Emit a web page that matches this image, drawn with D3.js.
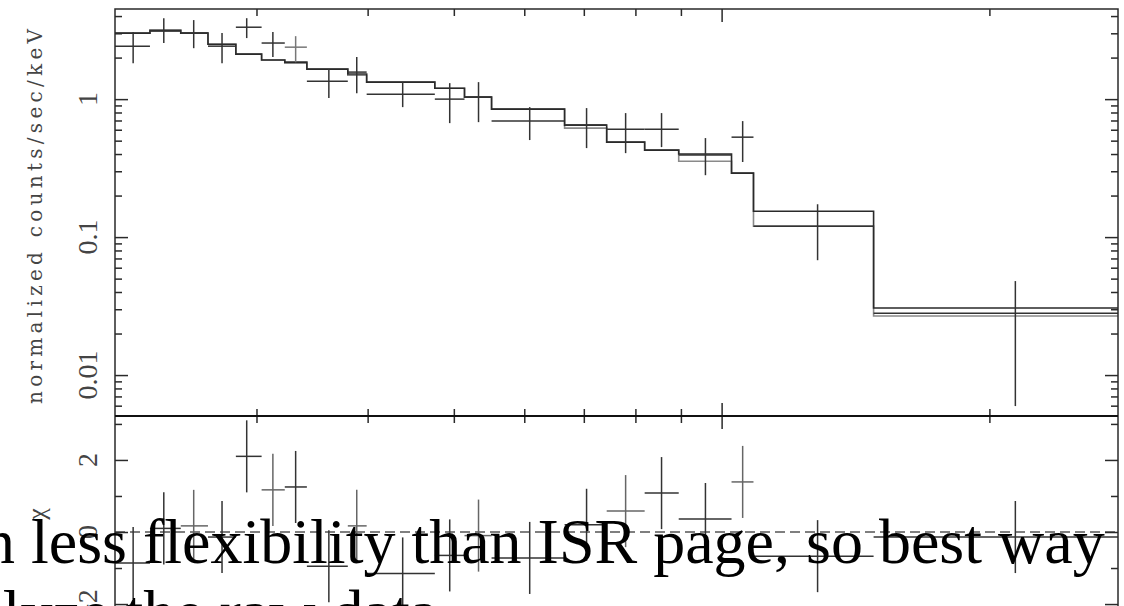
<!DOCTYPE html>
<html>
<head>
<meta charset="utf-8">
<script src="https://cdnjs.cloudflare.com/ajax/libs/d3/7.8.5/d3.min.js"></script>
<style>
  body { margin: 0; background: #fff; }
  svg { display: block; }
</style>
</head>
<body>
<div id="chart"></div>
<script>

	// spectrum bins (keV)
	var binLo  = [0.200, 0.2277, 0.2466, 0.2646, 0.2844, 0.304, 0.3228, 0.3418, 0.380, 0.399, 0.476, 0.514, 0.5513, 0.666, 0.7427, 0.8194, 0.8949, 1.026, 1.086, 1.482];
	var binHi  = [0.2277, 0.2466, 0.2646, 0.2844, 0.304, 0.3228, 0.3418, 0.380, 0.399, 0.476, 0.514, 0.5513, 0.666, 0.7427, 0.8194, 0.8949, 1.026, 1.086, 1.482, 3.0];
	var energy = [0.218, 0.236, 0.255, 0.2744, 0.2925, 0.313, 0.332, 0.3618, 0.3889, 0.438, 0.4947, 0.533, 0.6085, 0.705, 0.780, 0.856, 0.959, 1.056, 1.282, 2.139];

	// normalized counts/sec/keV with error range
	var rate   = [2.42, 3.11, 3.01, 2.42, 3.32, 2.55, 2.38, 1.35, 1.57, 1.087, 1.0, 1.034, 0.693, 0.648, 0.606, 0.606, 0.393, 0.530, 0.120, 0.0281];
	var rateLo = [1.82, 2.55, 2.34, 1.82, 2.77, 2.02, 1.85, 1.017, 1.105, 0.875, 0.670, 0.681, 0.505, 0.4416, 0.406, 0.449, 0.281, 0.35, 0.068, 0.00596];
	var rateHi = [3.06, 3.86, 3.74, 3.01, 3.86, 3.06, 2.86, 1.65, 2.02, 1.328, 1.306, 1.328, 0.875, 0.861, 0.792, 0.792, 0.522, 0.693, 0.173, 0.048];

	// folded models (two step curves)
	var modelA = [3.01, 3.16, 3.01, 2.50, 2.12, 1.92, 1.855, 1.65, 1.52, 1.328, 1.20, 1.034, 0.846, 0.648, 0.488, 0.427, 0.400, 0.291, 0.154, 0.0306];
	var modelB = [3.01, 3.16, 3.01, 2.50, 2.12, 1.92, 1.825, 1.65, 1.49, 1.328, 1.20, 1.034, 0.846, 0.616, 0.488, 0.427, 0.355, 0.291, 0.120, 0.0268];

	// residuals (chi)
	var chi    = [-0.86, 0.10, 0.17, -0.14, 2.10, 1.17, 1.25, -0.95, 0.17, -1.15, -0.65, -0.10, -0.72, 0.20, 0.58, 1.08, 0.36, 1.39, -0.67, -0.14];
	var chiErr = [1, 1, 1, 1, 1, 1, 1, 1, 1, 1, 1, 1, 1, 1, 1, 1, 1, 1, 1, 1];

	// ticks
	var rateTicks  = [0.01, 0.1, 1],
		rateLabels = ["0.01", "0.1", "1"],
		rateMinor  = [0.006, 0.007, 0.008, 0.009, 0.02, 0.03, 0.04, 0.05, 0.06, 0.07, 0.08, 0.09,
		              0.2, 0.3, 0.4, 0.5, 0.6, 0.7, 0.8, 0.9, 2, 3, 4];
	var chiTicks  = [-2, 0, 2],
		chiLabels = ["\u22122", "0", "2"],
		chiMinor  = [-3, -1, 1, 3];
	var energyTicks = [1],
		energyMinor = [0.3, 0.4, 0.5, 0.6, 0.7, 0.8, 0.9, 2];

	// slide text laid over the figure
	var slideLines = ["n less flexibility than ISR page, so best way", "analyze the raw data"];

	//layout
	var W = 1124, H = 606,
		padL = 115, padR = 1118, padT = 9, split = 416, padB = 648,
		major = 13, minor = 7, ink = "#2a2a2a";

	var svg = d3.select("#chart")
		.append("svg")
			.attr("width", W)
			.attr("height", H);

	//scales
	var x = d3.scaleLog()
		.domain([0.208, 2.79])
		.range([padL, padR]);

	var yRate = d3.scaleLog()
		.domain([0.00505, 4.5])
		.range([split, padT]);

	var yChi = d3.scaleLinear()
		.domain([-3.22, 3.22])
		.range([padB, split]);

	//clip paths for the two panels
	var defs = svg.append("defs");
	defs.append("clipPath").attr("id", "clipTop")
		.append("rect")
		.attr("x", padL).attr("y", padT)
		.attr("width", padR - padL).attr("height", split - padT);
	defs.append("clipPath").attr("id", "clipBot")
		.append("rect")
		.attr("x", padL).attr("y", split)
		.attr("width", padR - padL).attr("height", padB - split);

	var topPanel = svg.append("g").attr("clip-path", "url(#clipTop)");
	var botPanel = svg.append("g").attr("clip-path", "url(#clipBot)");

	//model step lines
	function steps(model) {
		var pts = [];
		model.forEach(function(m, i) {
			pts.push([binLo[i], m]);
			pts.push([binHi[i], m]);
		});
		return pts;
	}

	var stepLine = d3.line()
		.x(function(d) { return x(d[0]); })
		.y(function(d) { return yRate(d[1]); });

	topPanel.append("path")
		.attr("d", stepLine(steps(modelB)))
		.attr("fill", "none")
		.attr("stroke", "#8a8a8a")
		.attr("stroke-width", 1.6);

	topPanel.append("path")
		.attr("d", stepLine(steps(modelA)))
		.attr("fill", "none")
		.attr("stroke", ink)
		.attr("stroke-width", 1.6);

	//data crosses
	var idx = d3.range(energy.length);

	topPanel.selectAll("line.xerr")
		.data(idx)
		.enter()
		.append("line")
		.attr("class", "xerr")
		.attr("x1", function(i) { return x(binLo[i]); })
		.attr("x2", function(i) { return x(binHi[i]); })
		.attr("y1", function(i) { return yRate(rate[i]); })
		.attr("y2", function(i) { return yRate(rate[i]); })
		.attr("stroke", function(i) { return i == 6 ? "#777" : "#333"; })
		.attr("stroke-width", 1.5);

	topPanel.selectAll("line.yerr")
		.data(idx)
		.enter()
		.append("line")
		.attr("class", "yerr")
		.attr("x1", function(i) { return x(energy[i]); })
		.attr("x2", function(i) { return x(energy[i]); })
		.attr("y1", function(i) { return yRate(rateLo[i]); })
		.attr("y2", function(i) { return yRate(rateHi[i]); })
		.attr("stroke", function(i) { return i == 6 ? "#777" : "#333"; })
		.attr("stroke-width", 1.5);

	//residual panel
	botPanel.append("line")
		.attr("x1", padL).attr("x2", padR)
		.attr("y1", yChi(0)).attr("y2", yChi(0))
		.attr("stroke", "#555")
		.attr("stroke-width", 1.3)
		.attr("stroke-dasharray", "10,5");

	botPanel.selectAll("line.cx")
		.data(idx)
		.enter()
		.append("line")
		.attr("class", "cx")
		.attr("x1", function(i) { return x(binLo[i]); })
		.attr("x2", function(i) { return x(binHi[i]); })
		.attr("y1", function(i) { return yChi(chi[i]); })
		.attr("y2", function(i) { return yChi(chi[i]); })
		.attr("stroke", function(i) { return i % 3 == 2 ? "#666" : "#333"; })
		.attr("stroke-width", 1.5);

	botPanel.selectAll("line.cy")
		.data(idx)
		.enter()
		.append("line")
		.attr("class", "cy")
		.attr("x1", function(i) { return x(energy[i]); })
		.attr("x2", function(i) { return x(energy[i]); })
		.attr("y1", function(i) { return yChi(chi[i] - chiErr[i]); })
		.attr("y2", function(i) { return yChi(chi[i] + chiErr[i]); })
		.attr("stroke", function(i) { return i % 3 == 2 ? "#666" : "#333"; })
		.attr("stroke-width", 1.5);

	//ticks (all pointing inward, no labels from the axis)
	function ticks(axis, values, size, tx, ty) {
		var g = svg.append("g")
			.attr("transform", "translate(" + tx + "," + ty + ")")
			.call(axis.tickValues(values).tickSize(size).tickSizeOuter(0).tickFormat(""));
		g.select(".domain").remove();
		g.selectAll(".tick line")
			.attr("stroke", ink)
			.attr("stroke-width", 1.5);
	}

	// y, counts panel
	ticks(d3.axisRight(yRate), rateTicks, major, padL, 0);
	ticks(d3.axisRight(yRate), rateMinor, minor, padL, 0);
	ticks(d3.axisLeft(yRate), rateTicks, major, padR, 0);
	ticks(d3.axisLeft(yRate), rateMinor, minor, padR, 0);
	// y, residual panel
	ticks(d3.axisRight(yChi), chiTicks, major, padL, 0);
	ticks(d3.axisRight(yChi), chiMinor, minor, padL, 0);
	ticks(d3.axisLeft(yChi), chiTicks, major, padR, 0);
	ticks(d3.axisLeft(yChi), chiMinor, minor, padR, 0);
	// x, top edge and the shared edge
	ticks(d3.axisBottom(x), energyTicks, major, 0, padT);
	ticks(d3.axisBottom(x), energyMinor, minor, 0, padT);
	ticks(d3.axisTop(x), energyTicks, major, 0, split);
	ticks(d3.axisTop(x), energyMinor, minor, 0, split);
	ticks(d3.axisBottom(x), energyTicks, major, 0, split);
	ticks(d3.axisBottom(x), energyMinor, minor, 0, split);

	//frame
	svg.append("rect")
		.attr("x", padL).attr("y", padT)
		.attr("width", padR - padL).attr("height", padB - padT)
		.attr("fill", "none")
		.attr("stroke", ink)
		.attr("stroke-width", 1.5);

	svg.append("line")
		.attr("x1", padL).attr("x2", padR)
		.attr("y1", split).attr("y2", split)
		.attr("stroke", "#111")
		.attr("stroke-width", 2.2);

	//tick labels, rotated like the original plot
	var labelFont = "'Liberation Serif', 'Times New Roman', serif";

	svg.selectAll("text.rlab")
		.data(rateTicks)
		.enter()
		.append("text")
		.attr("class", "rlab")
		.attr("transform", function(d) { return "translate(97," + yRate(d) + ") rotate(-90)"; })
		.attr("text-anchor", "middle")
		.attr("font-family", labelFont)
		.attr("font-size", 28)
		.attr("fill", "#444")
		.text(function(d, i) { return rateLabels[i]; });

	svg.selectAll("text.clab")
		.data(chiTicks)
		.enter()
		.append("text")
		.attr("class", "clab")
		.attr("transform", function(d) { return "translate(97," + yChi(d) + ") rotate(-90)"; })
		.attr("text-anchor", "middle")
		.attr("font-family", labelFont)
		.attr("font-size", 28)
		.attr("fill", "#444")
		.text(function(d, i) { return chiLabels[i]; });

	//axis titles
	svg.append("text")
		.attr("transform", "translate(42," + ((padT + split) / 2 + 4) + ") rotate(-90)")
		.attr("text-anchor", "middle")
		.attr("font-family", "'DejaVu Serif', serif")
		.attr("font-size", 20)
		.attr("fill", "#444")
		.attr("textLength", 375)
		.attr("lengthAdjust", "spacing")
		.text("normalized counts/sec/keV");

	svg.append("text")
		.attr("transform", "translate(45," + yChi(0.5) + ") rotate(-90)")
		.attr("text-anchor", "middle")
		.attr("font-family", labelFont)
		.attr("font-size", 26)
		.attr("fill", "#444")
		.text("\u03c7");

	//slide text on top
	svg.selectAll("text.slide")
		.data(slideLines)
		.enter()
		.append("text")
		.attr("class", "slide")
		.attr("x", function(d, i) { return i == 0 ? -17 : -86; })
		.attr("y", function(d, i) { return 563 + i * 71; })
		.attr("font-family", labelFont)
		.attr("font-size", 64)
		.attr("fill", "#000")
		.text(function(d) { return d; });

</script>
</body>
</html>
